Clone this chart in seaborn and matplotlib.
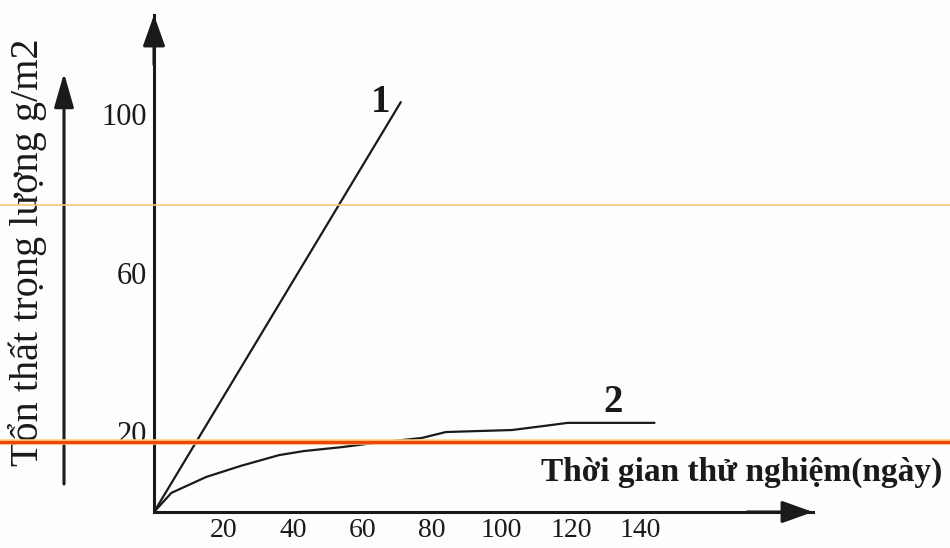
import matplotlib
matplotlib.use("Agg")
import matplotlib.pyplot as plt
import seaborn as sns
from matplotlib.lines import Line2D

# Curve 1: straight line
days_1 = [0, 71]
loss_1 = [0, 103]

# Curve 2: slow rise, flattening out
days_2 = [0, 5, 15, 25, 36, 43, 54, 63, 77, 84, 103, 112, 119, 144]
loss_2 = [0, 4.8, 8.8, 11.6, 14.3, 15.3, 16.3, 17.3, 18.6, 20.1, 20.6, 21.6, 22.4, 22.4]

x_ticks = [20, 40, 60, 80, 100, 120, 140, 167]
x_tick_labels = ["20", "40", "60", "80", "100", "120", "140", ""]
y_ticks = [20, 60, 100]
y_tick_labels = ["20", "60", "100"]

curve_names = ["1", "2"]
x_label = "Thời gian thử nghiệm(ngày)"
y_label = "Tổn thất trọng lượng g/m2"

W, H = 950, 548

sns.set_style("white")
plt.rcParams["font.family"] = ["Liberation Serif", "DejaVu Serif"]

fig = plt.figure(figsize=(W / 100, H / 100), dpi=100)
fig.patch.set_facecolor("#fdfdfd")
ax = fig.add_axes([154 / W, 1 - 512 / H, (813 - 154) / W, (512 - 15) / H])
ax.set_facecolor("none")

sns.lineplot(x=days_1, y=loss_1, ax=ax, color="#1a1a1a", lw=1.6, sort=False, estimator=None)
sns.lineplot(x=days_2, y=loss_2, ax=ax, color="#1a1a1a", lw=1.6, sort=False, estimator=None)

ax.set_xlim(0, 189.6)
ax.set_ylim(0, 124.9)
ax.set_xticks(x_ticks, x_tick_labels)
ax.set_yticks(y_ticks, y_tick_labels)
ax.tick_params(axis="both", direction="in", length=5, width=1.5, labelsize=22, colors="#1a1a1a")
ax.tick_params(axis="x", pad=4, labelsize=20)
ax.tick_params(axis="y", pad=5)

for side in ["top", "right"]:
    ax.spines[side].set_visible(False)
for side in ["left", "bottom"]:
    ax.spines[side].set_linewidth(2.2)
    ax.spines[side].set_color("#1a1a1a")

# arrow heads on both axes
head = dict(arrowstyle="-|>,head_length=0.95,head_width=0.34", color="#1a1a1a",
            lw=2.2, mutation_scale=20, shrinkA=0, shrinkB=0)
ax.annotate("", xy=(1, 0), xytext=(0.9, 0), xycoords="axes fraction", arrowprops=head)
ax.annotate("", xy=(0, 1), xytext=(0, 0.9), xycoords="axes fraction", arrowprops=head)

# curve numbers
ax.text(65.3, 103, curve_names[0], fontsize=28, fontweight="bold", ha="center", va="center", color="#1a1a1a")
ax.text(132.2, 27.6, curve_names[1], fontsize=28, fontweight="bold", ha="center", va="center", color="#1a1a1a")

# axis titles
fig.text(742 / W, 1 - 472 / H, x_label, fontsize=24, fontweight="bold", ha="center", va="center", color="#1a1a1a")
fig.text(28 / W, 1 - 252 / H, y_label, rotation=90, fontsize=29, ha="center", va="center", color="#1a1a1a")

# separate arrow next to the y title
ax.annotate("", xy=(64 / W, 1 - 73 / H), xytext=(64 / W, 1 - 484 / H), xycoords="figure fraction",
            arrowprops=dict(arrowstyle="-|>,head_length=1.05,head_width=0.3", color="#1a1a1a",
                            lw=2.2, mutation_scale=20, shrinkA=0, shrinkB=0))

# scanner streaks across the page
fig.add_artist(Line2D([0, 1], [1 - 205 / H] * 2, color="#f4c77a", lw=1.2, zorder=5))
fig.add_artist(Line2D([0, 1], [1 - 442 / H] * 2, color="#ffd27a", lw=4.0, zorder=5))
fig.add_artist(Line2D([0, 1], [1 - 442 / H] * 2, color="#f0440f", lw=2.4, zorder=6))

fig.savefig("out.png", dpi=100, facecolor=fig.get_facecolor())
